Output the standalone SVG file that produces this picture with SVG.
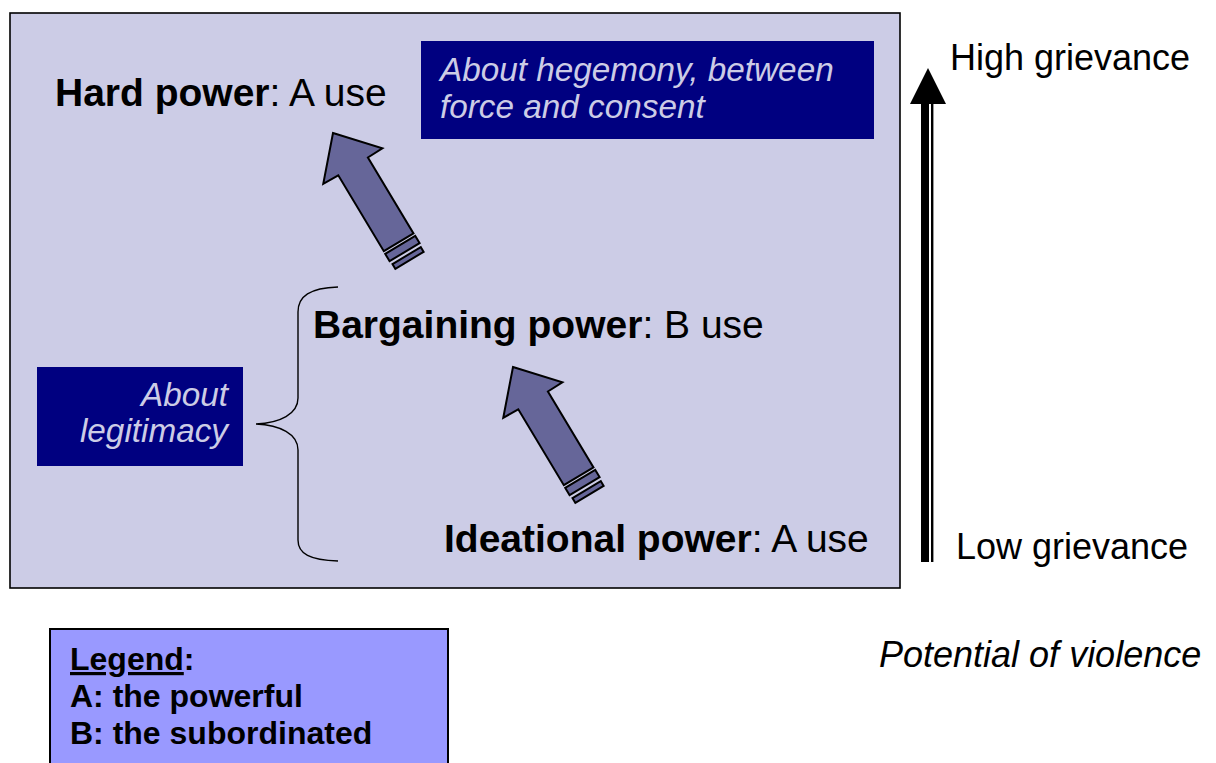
<svg xmlns="http://www.w3.org/2000/svg" width="1216" height="763" viewBox="0 0 1216 763">
  <defs>
    <style>
      .t { font-family: "Liberation Sans", Arial, sans-serif; fill: #000; }
      .lbl { font-size: 39px; }
      .side { font-size: 36px; }
      .note { font-size: 33.3px; font-style: italic; fill: #CCCCE6; }
      .leg { font-size: 32px; font-weight: bold; }
      .b { font-weight: bold; }
      .arrow { fill: #666699; stroke: #000; stroke-width: 2; stroke-linejoin: miter; }
    </style>
    <g id="bigArrow">
      <polygon class="arrow" points="0,0 34.5,38.5 17.3,39 17.3,127.5 -17.3,127.5 -17.3,39 -34.5,38.5"/>
      <polygon class="arrow" points="-17.5,130.5 17.5,130.5 17.5,139 -17.5,139"/>
      <polygon class="arrow" points="-16.5,143 16.5,143 16.5,148.5 -16.5,148.5"/>
    </g>
  </defs>

  <g id="main-panel">
    <rect x="10" y="13" width="890" height="575" fill="#CCCCE6" stroke="#000" stroke-width="1.6"/>
  </g>

  <g id="hard-power">
    <text class="t lbl" x="55" y="106"><tspan class="b">Hard power</tspan>: A use</text>
  </g>

  <g id="hegemony-note">
    <rect x="421" y="41" width="453" height="98" fill="#000080"/>
    <text class="t note" x="440" y="81">About hegemony, between</text>
    <text class="t note" x="440" y="118">force and consent</text>
  </g>

  <g id="bargaining-power">
    <text class="t lbl" x="313" y="338"><tspan class="b">Bargaining power</tspan>: B use</text>
  </g>

  <g id="ideational-power">
    <text class="t lbl" x="444" y="552"><tspan class="b">Ideational power</tspan>: A use</text>
  </g>

  <g id="legitimacy-note">
    <rect x="37" y="367" width="206" height="99" fill="#000080"/>
    <text class="t note" x="228" y="406" text-anchor="end">About</text>
    <text class="t note" x="228" y="442" text-anchor="end">legitimacy</text>
  </g>

  <g id="high-grievance">
    <text class="t side" x="950" y="70">High grievance</text>
  </g>

  <g id="low-grievance">
    <text class="t side" x="956" y="559">Low grievance</text>
  </g>

  <g id="potential-violence">
    <text class="t side" x="879" y="667" font-style="italic">Potential of violence</text>
  </g>

  <g id="legend">
    <rect x="50" y="629" width="398" height="150" fill="#9999FF" stroke="#000" stroke-width="2"/>
    <text class="t leg" x="70" y="670"><tspan text-decoration="underline">Legend</tspan>:</text>
    <text class="t leg" x="70" y="707">A: the powerful</text>
    <text class="t leg" x="70" y="744">B: the subordinated</text>
  </g>

  <g id="connectors">
    <use href="#bigArrow" transform="translate(333,133) rotate(-31)"/>
    <use href="#bigArrow" transform="translate(513,367) rotate(-31)"/>
    <path d="M338,287 C310,288 298,296 298,312 L298,398 C298,414 280,423 256,424 C280,425 298,434 298,450 L298,540 C298,554 310,560 338,561" fill="none" stroke="#000" stroke-width="1.4"/>
    <rect x="921" y="103" width="8" height="459" fill="#000"/>
    <rect x="931" y="103" width="2.4" height="459" fill="#000"/>
    <polygon points="928,68 910,104 946,104" fill="#000"/>
  </g>
</svg>
